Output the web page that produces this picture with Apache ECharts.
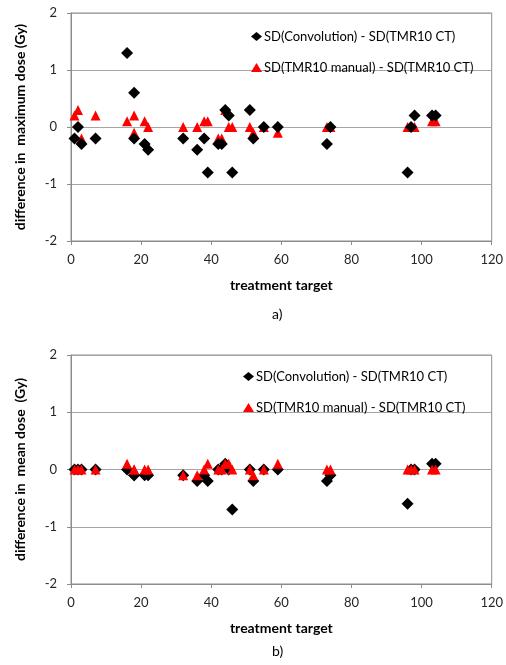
<!DOCTYPE html>
<html>
<head>
<meta charset="utf-8">
<script src="https://cdn.jsdelivr.net/npm/echarts@6/dist/echarts.min.js"></script>
<style>
  html, body { margin: 0; padding: 0; background: #fff; }
  #main { width: 506px; height: 665px; }
</style>
</head>
<body>
<div id="main"></div>
<script>
// treatment target numbers (x), shared by both panels
var targets = [1, 2, 3, 7, 16, 18, 18, 21, 22, 32, 36, 38, 39, 42, 43, 44, 45, 46, 51, 52, 55, 59, 73, 74, 96, 97, 98, 103, 104];

// a) difference in maximum dose (Gy)
var maxConv   = [-0.2, 0, -0.3, -0.2, 1.3, 0.6, -0.2, -0.3, -0.4, -0.2, -0.4, -0.2, -0.8, -0.3, -0.3, 0.3, 0.2, -0.8, 0.3, -0.2, 0, 0, -0.3, 0, -0.8, 0, 0.2, 0.2, 0.2];
var maxManual = [0.2, 0.3, -0.2, 0.2, 0.1, 0.2, -0.1, 0.1, 0, 0, 0, 0.1, 0.1, -0.2, -0.2, 0.3, 0, 0, 0, -0.1, 0, -0.1, 0, 0, 0, 0, 0, 0.1, 0.1];

// b) difference in mean dose (Gy)
var meanConv   = [0, 0, 0, 0, 0, -0.1, -0.1, -0.1, -0.1, -0.1, -0.2, -0.1, -0.2, 0, 0, 0.1, 0, -0.7, 0, -0.2, 0, 0, -0.2, -0.1, -0.6, 0, 0, 0.1, 0.1];
var meanManual = [0, 0, 0, 0, 0.1, 0, 0, 0, 0, -0.1, -0.1, 0, 0.1, 0, 0, 0.1, 0.1, 0, 0, -0.1, 0, 0.1, 0, 0, 0, 0, 0, 0, 0];

var nameConv = 'SD(Convolution) - SD(TMR10 CT)';
var nameManual = 'SD(TMR10 manual) - SD(TMR10 CT)';
var xTicks = [0, 20, 40, 60, 80, 100, 120];
var yTicks = [-2, -1, 0, 1, 2];

function pairs(vals) {
    var out = [];
    for (var i = 0; i < targets.length; i++) {
        out.push([targets[i], vals[i]]);
    }
    return out;
}

var font = 'Lato, "Open Sans", sans-serif';

function xAxisOf(idx) {
    return {
        gridIndex: idx,
        type: 'value',
        min: xTicks[0],
        max: xTicks[xTicks.length - 1],
        interval: 20,
        name: 'treatment target',
        nameLocation: 'middle',
        nameGap: 37,
        nameTextStyle: { fontFamily: font, fontWeight: 'bold', fontSize: 14, color: '#000' },
        axisLine: { show: true, onZero: false, lineStyle: { color: '#8c8c8c', width: 1 } },
        axisTick: { show: true, length: 4, lineStyle: { color: '#8c8c8c' } },
        axisLabel: { fontFamily: font, fontSize: 13, color: '#262626', margin: 12 },
        splitLine: { show: false }
    };
}

function yAxisOf(idx, title) {
    return {
        gridIndex: idx,
        type: 'value',
        min: yTicks[0],
        max: yTicks[yTicks.length - 1],
        interval: 1,
        name: title,
        nameLocation: 'middle',
        nameGap: 44,
        nameTextStyle: { fontFamily: font, fontWeight: 'bold', fontSize: 14, color: '#000' },
        axisLine: { show: true, onZero: false, lineStyle: { color: '#8c8c8c', width: 1 } },
        axisTick: { show: true, length: 4, lineStyle: { color: '#8c8c8c' } },
        axisLabel: { fontFamily: font, fontSize: 13, color: '#262626', margin: 14 },
        splitLine: { show: true, lineStyle: { color: '#a6a6a6', width: 1 } }
    };
}

function legendOf(left, top) {
    return {
        orient: 'vertical',
        left: left,
        top: top,
        itemWidth: 11,
        itemHeight: 9,
        itemGap: 18,
        data: [nameConv, nameManual],
        textStyle: { fontFamily: font, fontSize: 13, color: '#000', padding: [0, 0, 0, -3] }
    };
}

var myChart = echarts.init(document.getElementById('main'));
myChart.setOption({
    backgroundColor: '#fff',
    animation: false,
    grid: [
        { left: 71, right: 13, top: 13, height: 228, show: true, borderColor: '#8c8c8c', borderWidth: 1 },
        { left: 71, right: 13, top: 355, height: 229, show: true, borderColor: '#8c8c8c', borderWidth: 1 }
    ],
    xAxis: [xAxisOf(0), xAxisOf(1)],
    yAxis: [
        yAxisOf(0, 'difference in  maximum dose (Gy)'),
        yAxisOf(1, 'difference in  mean dose  (Gy)')
    ],
    legend: [legendOf(246, 25), legendOf(238, 365)],
    graphic: [
        { type: 'text', left: 272, top: 307, style: { text: 'a)', font: '14px ' + font, fill: '#000' } },
        { type: 'text', left: 272, top: 644, style: { text: 'b)', font: '14px ' + font, fill: '#000' } }
    ],
    series: [
        {
            name: nameConv, type: 'scatter', xAxisIndex: 0, yAxisIndex: 0,
            symbol: 'diamond', symbolSize: 12, z: 3,
            itemStyle: { color: '#000', opacity: 1 },
            data: pairs(maxConv)
        },
        {
            name: nameManual, type: 'scatter', xAxisIndex: 0, yAxisIndex: 0,
            symbol: 'triangle', symbolSize: 10, z: 2,
            itemStyle: { color: '#ff0000', opacity: 1 },
            data: pairs(maxManual)
        },
        {
            name: nameConv, type: 'scatter', xAxisIndex: 1, yAxisIndex: 1,
            symbol: 'diamond', symbolSize: 12, z: 2,
            itemStyle: { color: '#000', opacity: 1 },
            data: pairs(meanConv)
        },
        {
            name: nameManual, type: 'scatter', xAxisIndex: 1, yAxisIndex: 1,
            symbol: 'triangle', symbolSize: 10, z: 3,
            itemStyle: { color: '#ff0000', opacity: 1 },
            data: pairs(meanManual)
        }
    ]
});
</script>
</body>
</html>
